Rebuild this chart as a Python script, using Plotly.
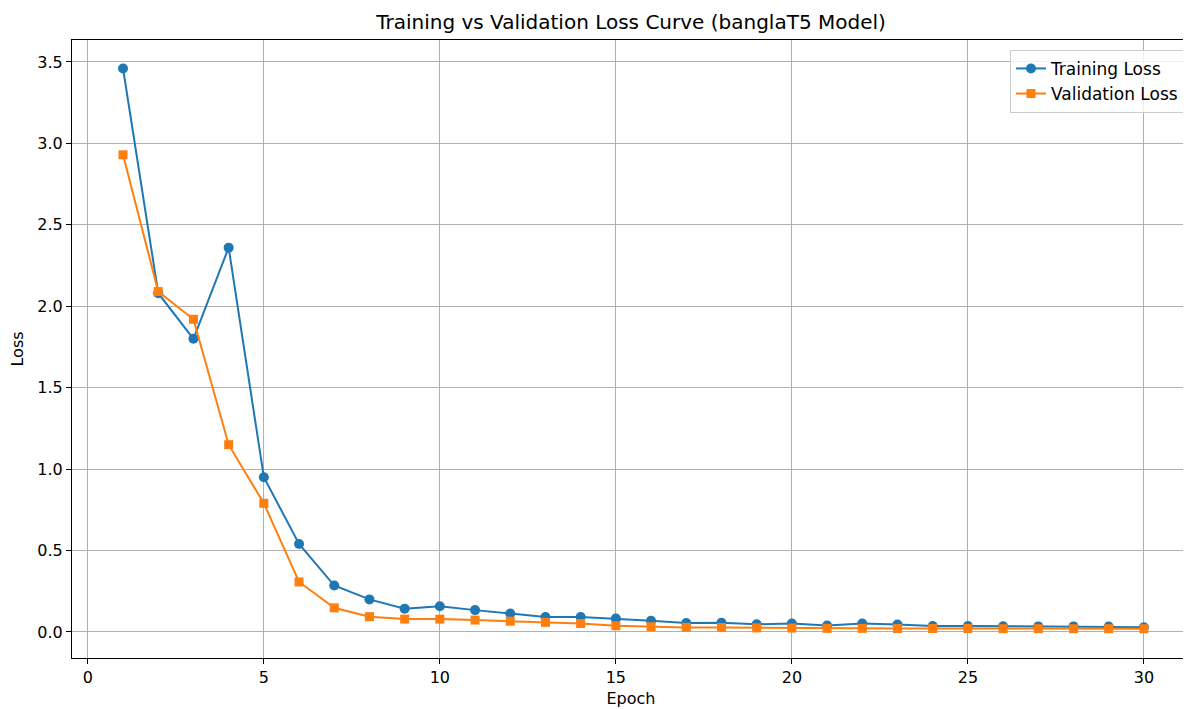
import plotly.graph_objects as go

epochs = list(range(1, 31))
train_loss = [3.46, 2.08, 1.80, 2.36, 0.95, 0.54, 0.285, 0.200, 0.143, 0.158,
              0.134, 0.113, 0.092, 0.092, 0.082, 0.068, 0.055, 0.056, 0.047, 0.052,
              0.040, 0.052, 0.046, 0.037, 0.037, 0.035, 0.034, 0.034, 0.033, 0.029]
val_loss = [2.93, 2.09, 1.92, 1.15, 0.79, 0.307, 0.148, 0.094, 0.079, 0.079,
            0.073, 0.066, 0.059, 0.052, 0.038, 0.032, 0.028, 0.027, 0.025, 0.024,
            0.022, 0.022, 0.021, 0.021, 0.021, 0.020, 0.020, 0.020, 0.020, 0.020]
x_ticks = [0, 5, 10, 15, 20, 25, 30]
y_ticks = [0.0, 0.5, 1.0, 1.5, 2.0, 2.5, 3.0, 3.5]

FONT = "DejaVu Sans"
W, H = 1183, 701  # page body has an 8px margin

fig = go.Figure()
fig.add_trace(go.Scatter(x=epochs, y=train_loss, mode="lines+markers", name="Training Loss",
                         line=dict(color="#1f77b4", width=2),
                         marker=dict(symbol="circle", size=10, color="#1f77b4")))
fig.add_trace(go.Scatter(x=epochs, y=val_loss, mode="lines+markers", name="Validation Loss",
                         line=dict(color="#ff7f0e", width=2),
                         marker=dict(symbol="square", size=9, color="#ff7f0e")))

axis_common = dict(showgrid=True, gridcolor="#b0b0b0", gridwidth=1,
                   showline=True, linecolor="black", linewidth=1, mirror=True,
                   ticks="outside", ticklen=5, tickcolor="black", zeroline=False,
                   tickfont=dict(family=FONT, size=16, color="black"))

fig.update_layout(
    width=W, height=H,
    paper_bgcolor="white", plot_bgcolor="white",
    margin=dict(l=64, r=1, t=32, b=51),
    title=dict(text="Training vs Validation Loss Curve (banglaT5 Model)",
               xref="paper", x=0.5, xanchor="center", y=1 - 14 / H, yanchor="middle",
               font=dict(family=FONT, size=20, color="black")),
    xaxis=dict(range=[-0.45, 31.31], tickvals=x_ticks, ticktext=[str(v) for v in x_ticks],
               title=dict(text="Epoch", font=dict(family=FONT, size=16, color="black"), standoff=6),
               **axis_common),
    yaxis=dict(range=[-0.16, 3.635], tickvals=y_ticks, ticktext=[f"{v:.1f}" for v in y_ticks],
               title=dict(text="Loss", font=dict(family=FONT, size=16, color="black"), standoff=9),
               **axis_common),
    legend=dict(x=0.9946, y=0.984, xanchor="right", yanchor="top",
                bgcolor="rgba(255,255,255,0.8)", bordercolor="#cccccc", borderwidth=1,
                font=dict(family=FONT, size=17, color="black")),
    showlegend=True,
)

fig.write_html("out.html")
